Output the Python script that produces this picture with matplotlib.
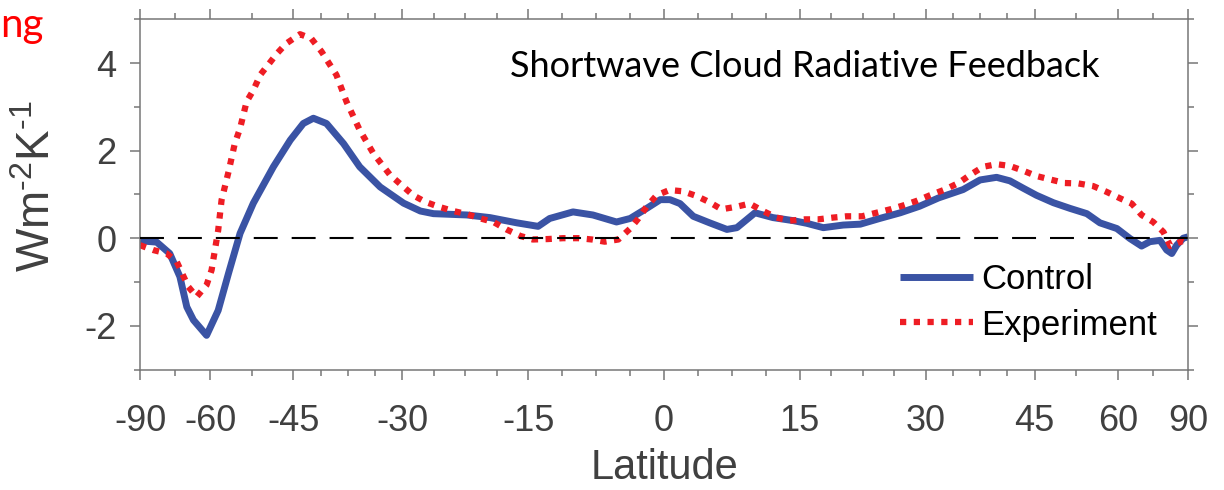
import numpy as np
import matplotlib
matplotlib.use("Agg")
from matplotlib import pyplot as plt
from matplotlib.ticker import FixedLocator, MultipleLocator

# zonal-mean shortwave cloud feedback, read by latitude (deg N)
ctrl_lat = [-90, -75.5, -70.6, -67.5, -65.6, -63.9, -60.8, -58.3, -56.2, -54.0,
            -51.6, -48.2, -45.5, -43.5, -42.0, -40.1, -37.7, -35.5, -32.8, -29.8,
            -27.7, -26.1, -22.1, -19.4, -16.3, -13.9, -12.6, -10.0, -7.8, -5.2,
            -3.7, -1.9, -0.4, 0.65, 1.75, 3.2, 5.0, 6.9, 8.0, 10.0,
            12.0, 14.3, 15.8, 17.7, 20.0, 22.0, 24.3, 26.8, 29.2, 31.6,
            34.8, 37.1, 39.4, 41.3, 43.3, 45.3, 48.0, 50.8, 53.8, 56.3,
            59.8, 62.8, 65.7, 68.0, 71.2, 73.6, 75.7, 78.1, 82.3, 90]
ctrl_val = [-0.06, -0.09, -0.35, -0.88, -1.57, -1.87, -2.22, -1.65, -0.80, 0.11,
            0.80, 1.63, 2.24, 2.62, 2.74, 2.62, 2.16, 1.63, 1.17, 0.80,
            0.62, 0.56, 0.53, 0.47, 0.35, 0.27, 0.45, 0.60, 0.53, 0.37,
            0.45, 0.68, 0.88, 0.88, 0.79, 0.50, 0.35, 0.20, 0.24, 0.58,
            0.47, 0.40, 0.34, 0.24, 0.30, 0.32, 0.45, 0.58, 0.73, 0.92,
            1.11, 1.33, 1.39, 1.31, 1.14, 0.98, 0.81, 0.68, 0.56, 0.35,
            0.22, -0.01, -0.18, -0.08, -0.05, -0.27, -0.35, -0.16, 0.0, 0.03]

expt_lat = [-90, -77.2, -71.6, -68.4, -65.2, -63.1, -60.8, -59.7, -58.3, -57.6,
            -56.2, -55.0, -54.0, -52.8, -51.6, -50.4, -47.6, -46.1, -44.0, -42.3,
            -40.8, -38.7, -37.3, -35.5, -33.7, -31.5, -28.6, -27.1, -25.5, -23.7,
            -22.1, -20.5, -19.0, -17.5, -15.9, -14.5, -12.8, -11.1, -9.4, -7.9,
            -6.5, -5.0, -3.7, -2.8, -1.9, -0.8, 0.6, 2.1, 3.6, 5.0,
            6.3, 8.0, 9.4, 10.9, 12.4, 13.9, 15.6, 17.1, 18.8, 20.4,
            22.2, 23.9, 25.6, 27.2, 28.8, 30.5, 32.4, 34.2, 35.7, 37.5,
            39.4, 41.3, 43.3, 45.3, 47.5, 49.9, 52.3, 55.0, 57.6, 60.5,
            63.2, 65.7, 69.0, 72.4, 75.1, 78.1, 82.3, 90]
expt_val = [-0.16, -0.27, -0.35, -0.54, -1.11, -1.34, -1.07, -0.73, 0.18, 0.87,
            1.52, 2.16, 2.51, 3.12, 3.38, 3.73, 4.22, 4.45, 4.66, 4.56,
            4.26, 3.73, 3.12, 2.47, 1.94, 1.44, 0.98, 0.83, 0.72, 0.62,
            0.55, 0.45, 0.37, 0.20, 0.05, -0.03, -0.02, 0.0, 0.0, -0.03,
            -0.08, -0.03, 0.22, 0.45, 0.72, 0.98, 1.10, 1.07, 0.96, 0.82,
            0.66, 0.72, 0.79, 0.62, 0.47, 0.40, 0.43, 0.43, 0.47, 0.50,
            0.50, 0.58, 0.66, 0.75, 0.85, 0.98, 1.11, 1.26, 1.44, 1.63,
            1.69, 1.65, 1.54, 1.42, 1.34, 1.26, 1.25, 1.19, 1.06, 0.91,
            0.79, 0.53, 0.37, 0.14, -0.18, -0.12, -0.06, -0.10]

lat_ticks = [-90, -60, -45, -30, -15, 0, 15, 30, 45, 60, 90]
val_ticks = [-2, 0, 2, 4]

BLUE = "#3a53a4"
RED = "#ee1d24"
AXCOL = "#767676"
TXTCOL = "#404040"

plt.rcParams["font.family"] = ["Liberation Sans", "DejaVu Sans"]
plt.rcParams["axes.unicode_minus"] = False
plt.rcParams["mathtext.fontset"] = "custom"
plt.rcParams["mathtext.rm"] = "Liberation Sans"
plt.rcParams["mathtext.it"] = "Liberation Sans"


def to_sin(x):
    return np.sin(np.deg2rad(x))


def from_sin(s):
    return np.rad2deg(np.arcsin(np.clip(s, -1, 1)))


fig = plt.figure(figsize=(12.24, 4.9), dpi=100)
ax = fig.add_axes([140 / 1224, 1 - 369.5 / 490, 1048 / 1224, 350.2 / 490])
ax.set_xscale("function", functions=(to_sin, from_sin))

ax.axhline(0, color="black", lw=1.5, dashes=(11.5, 6.7), zorder=3)
ax.plot(ctrl_lat, ctrl_val, color=BLUE, lw=5, solid_joinstyle="round",
        solid_capstyle="butt", label="Control", zorder=2)
ax.plot(expt_lat, expt_val, color=RED, lw=4.5, dashes=(1, 1.2),
        dash_capstyle="butt", label="Experiment", zorder=2)

ax.set_xlim(-90, 90)
ax.set_ylim(-3, 5)

# minor ticks: split each gap evenly in sin(lat)
minor = []
for a, b in zip(lat_ticks[:-1], lat_ticks[1:]):
    n = 4 if max(abs(a), abs(b)) <= 45 else 2
    sa, sb = to_sin(a), to_sin(b)
    for k in range(1, n):
        minor.append(float(from_sin(sa + (sb - sa) * k / n)))
ax.xaxis.set_major_locator(FixedLocator(lat_ticks))
ax.xaxis.set_minor_locator(FixedLocator(minor))
ax.set_xticklabels([str(t) for t in lat_ticks])
ax.yaxis.set_major_locator(FixedLocator(val_ticks))
ax.yaxis.set_minor_locator(MultipleLocator(1))
ax.set_yticklabels([str(t) for t in val_ticks])

for s in ax.spines.values():
    s.set_color(AXCOL)
    s.set_linewidth(1.1)
ax.tick_params(which="both", direction="out", top=True, right=True,
               color=AXCOL, width=1.1, labelcolor=TXTCOL, labelsize=26)
ax.tick_params(which="major", length=7)
ax.tick_params(which="minor", length=4)
ax.tick_params(axis="x", pad=18)
ax.tick_params(axis="y", pad=10)

ax.set_xlabel("Latitude", fontsize=30, color=TXTCOL, labelpad=6)
ax.set_ylabel("Wm$^{\u2010 2}$K$^{\u2010 1}$", fontsize=33, color=TXTCOL)
ax.yaxis.set_label_coords(-0.076, 0.524)

ax.text(0.6345, 0.864, "Shortwave Cloud Radiative Feedback", transform=ax.transAxes,
        ha="center", va="center", fontsize=26, family="Lato", color="black")
fig.text(0, 1 - 37 / 490, "ng", ha="left", va="baseline",
         fontsize=29, family="Lato", color="red")

leg = ax.legend(loc="upper left", bbox_to_anchor=(900 / 1224, 1 - 263 / 490),
                bbox_transform=fig.transFigure, frameon=False, fontsize=25,
                handlelength=2.1, handletextpad=0.25, labelspacing=0.36,
                borderpad=0, borderaxespad=0)
for t in leg.get_texts():
    t.set_color("black")

fig.savefig("out.png", dpi=100)
